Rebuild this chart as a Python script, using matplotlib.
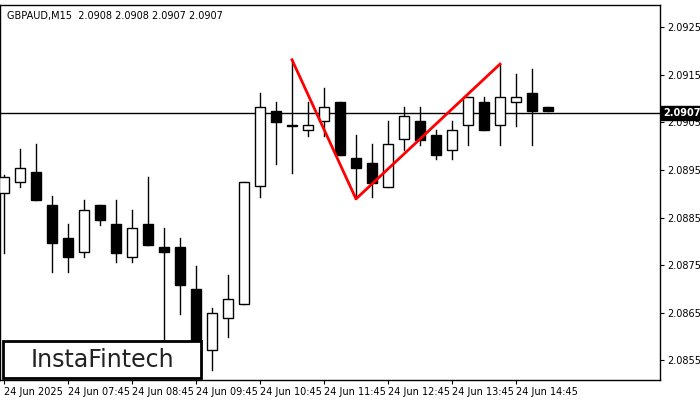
import numpy as np
import matplotlib.pyplot as plt
from matplotlib.patches import Rectangle

# OHLC for GBPAUD M15 candles
opens = [2.08901, 2.08925, 2.08946, 2.08876, 2.08807, 2.08777, 2.08876, 2.08837, 2.08767, 2.08837,
         2.08788, 2.08788, 2.08700, 2.08572, 2.08639, 2.08668, 2.08916, 2.09074, 2.09044, 2.09034,
         2.09053, 2.09093, 2.08975, 2.08964, 2.08914, 2.09015, 2.09053, 2.09023, 2.08992, 2.09044,
         2.09093, 2.09044, 2.09093, 2.09111, 2.09082]
highs = [2.08939, 2.08994, 2.09004, 2.08895, 2.08837, 2.08887, 2.08876, 2.08887, 2.08866, 2.08935,
         2.08828, 2.08807, 2.08748, 2.08660, 2.08729, 2.08925, 2.09111, 2.09093, 2.09181, 2.09093,
         2.09122, 2.09093, 2.09023, 2.09004, 2.09053, 2.09082, 2.09082, 2.09034, 2.09053, 2.09103,
         2.09103, 2.09172, 2.09151, 2.09162, 2.09082]
lows = [2.08775, 2.08914, 2.08887, 2.08736, 2.08736, 2.08767, 2.08834, 2.08756, 2.08756, 2.08793,
        2.08519, 2.08647, 2.08513, 2.08530, 2.08599, 2.08668, 2.08893, 2.08962, 2.08943, 2.09021,
        2.09021, 2.08981, 2.08893, 2.08893, 2.08914, 2.08992, 2.09002, 2.08973, 2.08973, 2.09002,
        2.09034, 2.09002, 2.09042, 2.09002, 2.09074]
closes = [2.08935, 2.08954, 2.08887, 2.08796, 2.08767, 2.08866, 2.08845, 2.08775, 2.08828, 2.08793,
          2.08777, 2.08708, 2.08519, 2.08649, 2.08679, 2.08925, 2.09082, 2.09050, 2.09042, 2.09044,
          2.09082, 2.08981, 2.08954, 2.08922, 2.09004, 2.09063, 2.09013, 2.08981, 2.09034, 2.09103,
          2.09034, 2.09103, 2.09103, 2.09074, 2.09074]

pattern_idx = [18, 22, 31]
pattern_px = [2.09181, 2.08889, 2.09172]
last_price = 2.0907
y_ticks = [2.0855, 2.0865, 2.0875, 2.0885, 2.0895, 2.0905, 2.0915, 2.0925]
x_tick_idx = [0, 4, 8, 12, 16, 20, 24, 28, 32]
x_tick_labels = ['24 Jun 2025', '24 Jun 07:45', '24 Jun 08:45', '24 Jun 09:45', '24 Jun 10:45',
                 '24 Jun 11:45', '24 Jun 12:45', '24 Jun 13:45', '24 Jun 14:45']

fig = plt.figure(figsize=(7, 4), dpi=100)
ax = fig.add_axes([0, 0.05, 660 / 700, 0.9375])

w = 0.6
for i, (o, h, l, c) in enumerate(zip(opens, highs, lows, closes)):
    ax.plot([i, i], [l, h], color='black', lw=1, zorder=2)
    bottom, top = min(o, c), max(o, c)
    face = 'white' if c >= o else 'black'
    ax.add_patch(Rectangle((i - w / 2, bottom), w, max(top - bottom, 0.000015),
                           facecolor=face, edgecolor='black', lw=1, zorder=3))

ax.axhline(last_price, color='black', lw=1, zorder=1)
ax.plot(pattern_idx, pattern_px, color='red', lw=2, zorder=4)

ax.set_xlim(-0.25, 41)
ax.set_ylim(2.08509, 2.09296)
ax.yaxis.tick_right()
ax.set_yticks(y_ticks)
ax.set_yticklabels([f'{v:.4f}' for v in y_ticks], fontsize=7)
ax.set_xticks(x_tick_idx)
ax.set_xticklabels(x_tick_labels, fontsize=7, ha='left')
ax.tick_params(axis='both', length=3, pad=2)
for s in ax.spines.values():
    s.set_linewidth(1)

ax.text(0.01, 0.985, 'GBPAUD,M15  2.0908 2.0908 2.0907 2.0907', transform=ax.transAxes,
        fontsize=7, va='top', ha='left')
ax.text(1.005, last_price, f'{last_price:.4f}', transform=ax.get_yaxis_transform(),
        fontsize=7, color='white', va='center', ha='left', fontweight='bold',
        bbox=dict(facecolor='black', edgecolor='black', pad=1.5))

fig.patches.append(Rectangle((3 / 700, 22 / 400), 198 / 700, 37 / 400, transform=fig.transFigure,
                             facecolor='white', edgecolor='black', lw=2, zorder=10))
fig.text(102 / 700, 40 / 400, 'InstaFintech', fontsize=17, ha='center', va='center',
         color='#222222', zorder=11)

fig.savefig('out.png', dpi=100)
